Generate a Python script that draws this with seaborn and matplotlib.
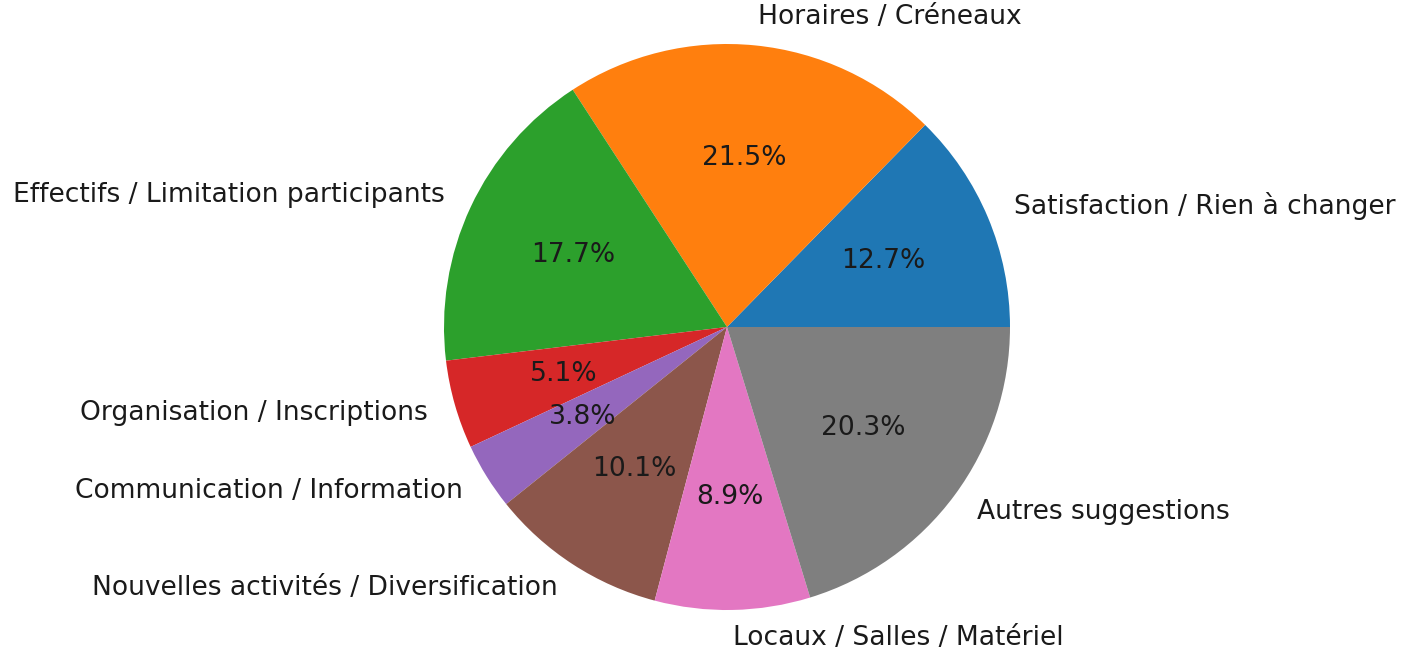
import matplotlib
matplotlib.use("Agg")
import matplotlib.pyplot as plt
import seaborn as sns

categories = [
    "Satisfaction / Rien à changer",
    "Horaires / Créneaux",
    "Effectifs / Limitation participants",
    "Organisation / Inscriptions",
    "Communication / Information",
    "Nouvelles activités / Diversification",
    "Locaux / Salles / Matériel",
    "Autres suggestions",
]
counts = [10, 17, 14, 4, 3, 8, 7, 16]

colors = sns.color_palette("tab10", len(categories))

fig = plt.figure(figsize=(14.13, 6.51), dpi=100)
# square axes centred on the pie
size_px = 707.5
ax = fig.add_axes([(727 - size_px / 2) / 1413, (324 - size_px / 2) / 651,
                   size_px / 1413, size_px / 651])
ax.pie(counts, labels=categories, colors=colors, autopct="%1.1f%%",
       textprops={"fontsize": 19.1, "color": "#1a1a1a"})
ax.set_aspect("equal")
fig.savefig("out.png", dpi=100)
